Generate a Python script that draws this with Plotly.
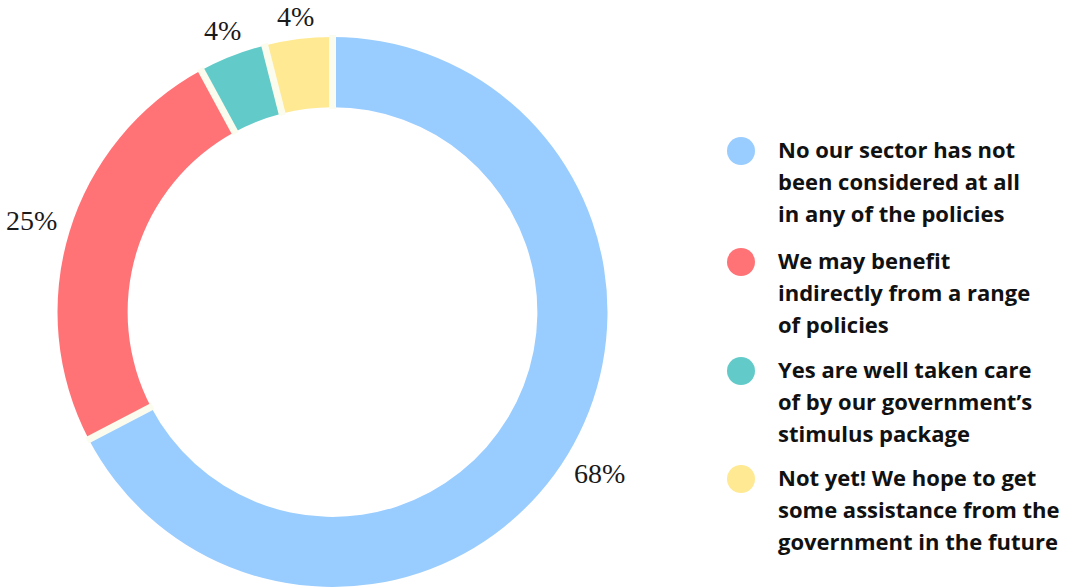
import math
import plotly.graph_objects as go

# Survey answers and their shares (percent)
categories = [
    "No our sector has not<br>been considered at all<br>in any of the policies",
    "We may benefit<br>indirectly from a range<br>of policies",
    "Yes are well taken care<br>of by our government’s<br>stimulus package",
    "Not yet! We hope to get<br>some assistance from the<br>government in the future",
]
shares = [68, 25, 4, 4]
colors = ["#99ccff", "#ff7377", "#62cbc9", "#ffe993"]

W, H = 1073, 587
CX, CY, R_OUT = 332.5, 312.0, 275.0
HOLE = 0.745
R_IN = R_OUT * HOLE


def px(x, y):
    return x / W, 1 - y / H


fig = go.Figure(
    go.Pie(
        values=shares,
        labels=categories,
        textinfo="none",
        hole=HOLE,
        sort=False,
        direction="clockwise",
        rotation=0,
        marker=dict(colors=colors, line=dict(width=0)),
        domain=dict(x=[(CX - R_OUT) / W, (CX + R_OUT) / W], y=[0, 1 - (CY - R_OUT) / H]),
        showlegend=False,
        hoverinfo="skip",
    )
)

shapes, annotations = [], []

# Cream gaps between slices and percentage labels outside the ring
total = sum(shares)
cum = 0.0
for v in shares:
    a0 = cum / total * 2 * math.pi
    cum += v
    mid = (cum - v / 2) / total * 2 * math.pi
    # separator at the start of each slice
    x0, y0 = px(CX + (R_IN - 2) * math.sin(a0), CY - (R_IN - 2) * math.cos(a0))
    x1, y1 = px(CX + (R_OUT + 2) * math.sin(a0), CY - (R_OUT + 2) * math.cos(a0))
    shapes.append(dict(type="line", xref="paper", yref="paper",
                       x0=x0, y0=y0, x1=x1, y1=y1,
                       line=dict(color="#fcfcee", width=7)))
    rl = R_OUT + 20 + 20 * abs(math.sin(mid))
    lx, ly = px(CX + rl * math.sin(mid), CY - rl * math.cos(mid))
    annotations.append(dict(
        text=f"{v}%", xref="paper", yref="paper", x=lx, y=ly,
        xanchor="center", yanchor="middle", showarrow=False,
        font=dict(family="Liberation Serif", size=28, color="#1a1a1a"),
    ))

# Legend: round swatches with wrapped labels
row_px = [149, 260, 369, 477]
LINE_GAP = 32
for cat, col, cy in zip(categories, colors, row_px):
    r = 14
    sx0, sy0 = px(741 - r, cy + 2 + r)
    sx1, sy1 = px(741 + r, cy + 2 - r)
    shapes.append(dict(type="circle", xref="paper", yref="paper",
                       x0=sx0, x1=sx1, y0=sy0, y1=sy1,
                       fillcolor=col, line=dict(width=0)))
    for j, line in enumerate(cat.split("<br>")):
        tx, ty = px(776, cy + j * LINE_GAP)
        annotations.append(dict(
            text=line, xref="paper", yref="paper", x=tx, y=ty,
            xanchor="left", yanchor="middle", align="left", showarrow=False,
            font=dict(family="Open Sans", size=22, color="#111111", weight=700),
        ))

fig.update_layout(
    width=W, height=H,
    margin=dict(l=0, r=0, t=0, b=0),
    paper_bgcolor="white", plot_bgcolor="white",
    shapes=shapes, annotations=annotations,
)

fig.write_html("out.html")
